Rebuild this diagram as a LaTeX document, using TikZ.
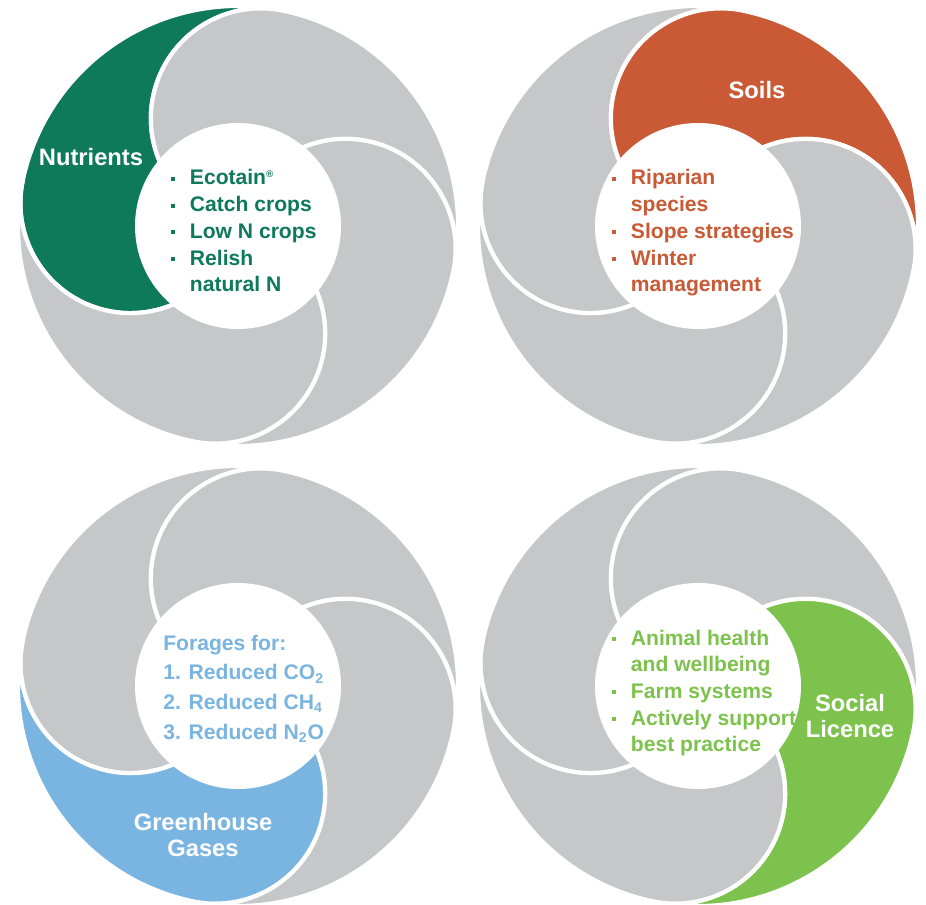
\documentclass[tikz,border=0pt]{standalone}
\usepackage{fontspec}
\setmainfont{Liberation Sans}

\definecolor{petalgray}{RGB}{198,199,201}
\definecolor{nutgreen}{RGB}{14,122,90}
\definecolor{soilred}{RGB}{201,90,53}
\definecolor{ghgblue}{RGB}{121,181,224}
\definecolor{socgreen}{RGB}{125,194,76}

% small square bullet
\newcommand\sqbullet{\raisebox{2.3pt}{\rule{2.3pt}{2.3pt}}}

\begin{document}
\begin{tikzpicture}[x=0.02cm,y=0.02cm,
		petal/.style={draw=white,line width=2.4pt,line join=round},
		head/.style={text=white,font=\fontsize{13.5}{15}\selectfont\bfseries,align=center,inner sep=0pt},
		items/.style={font=\fontsize{12}{15.2}\selectfont\bfseries,inner sep=0pt,anchor=base west}]
		\useasboundingbox (0,0) rectangle (926,904);
		% four swirls, one petal each in colour
		\foreach \cx/\cy/\hot/\hotcol in {238/678/168/nutgreen,698/678/78/soilred,238/218/-102/ghgblue,698/218/-12/socgreen}{
			\foreach \a in {168,78,-12,-102}{
				\ifnum\a=\hot \def\pcol{\hotcol}\else\def\pcol{petalgray}\fi
				\filldraw[petal,fill=\pcol] (\cx,\cy) ++({\a-90}:220)
					arc[start angle=\a-90,end angle=\a,radius=220]
					arc[start angle=\a,end angle=\a+180,radius=110]
					arc[start angle=\a+90,end angle=\a-90,radius=110] -- cycle;
			}
			\fill[white] (\cx,\cy) circle[radius=103];
		}
		% titles on the coloured petals
		\node[head] (nutrients) at (91,747) {Nutrients};
		\node[head] (soils) at (757,814) {Soils};
		\node[head] (ghg) at (203,69) {Greenhouse\\Gases};
		\node[head] (social) at (850,188) {Social\\Licence};
		% lists in the hubs
		\node[items,text=nutgreen] (nutlist) at (171,719) {\begin{tabular}[t]{@{}l@{\hspace{8.3pt}}l@{}}
				\sqbullet & Ecotain\textsuperscript{\fontsize{5.5}{6}\selectfont ®}\\
				\sqbullet & Catch crops\\
				\sqbullet & Low N crops\\
				\sqbullet & Relish\\
				& natural N
			\end{tabular}};
		\node[items,text=soilred] (soillist) at (612,719) {\begin{tabular}[t]{@{}l@{\hspace{8.3pt}}l@{}}
				\sqbullet & Riparian\\
				& species\\
				\sqbullet & Slope strategies\\
				\sqbullet & Winter\\
				& management
			\end{tabular}};
		\node[items,text=ghgblue,font=\fontsize{12}{17}\selectfont\bfseries] (ghglist) at (163,254) {\begin{tabular}[t]{@{}l@{}}
				Forages for:\\
				1. Reduced CO\textsubscript{2}\\
				2. Reduced CH\textsubscript{4}\\
				3. Reduced N\textsubscript{2}O
			\end{tabular}};
		\node[items,text=socgreen] (soclist) at (612,259) {\begin{tabular}[t]{@{}l@{\hspace{8.3pt}}l@{}}
				\sqbullet & Animal health\\
				& and wellbeing\\
				\sqbullet & Farm systems\\
				\sqbullet & Actively support\\
				& best practice
			\end{tabular}};
	\end{tikzpicture}
\end{document}
